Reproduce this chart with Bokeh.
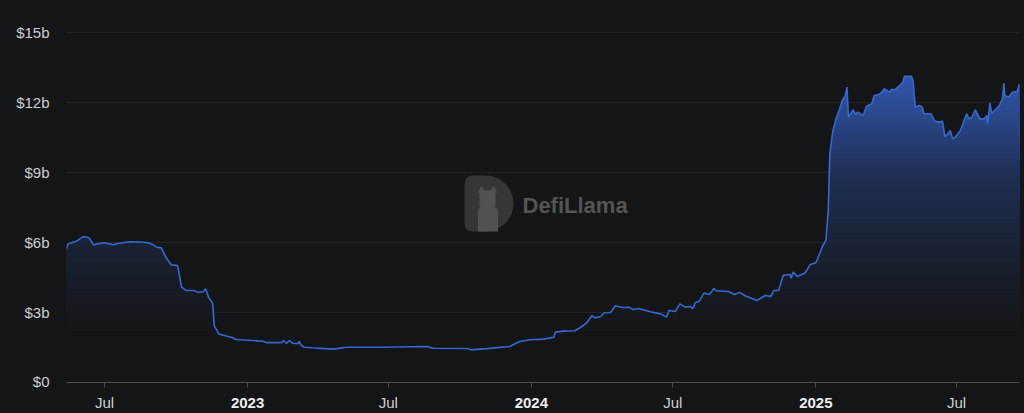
from datetime import timedelta
import numpy as np
import pandas as pd
from jinja2 import Template
from bokeh.plotting import figure
from bokeh.layouts import column
from bokeh.models import Range1d, FixedTicker, Label
from bokeh.core.properties import value
from bokeh.embed import file_html
from bokeh.resources import INLINE

# ---------------- data (TVL in billions USD) ----------------
dates = [
    "2022-05-13", "2022-05-15", "2022-05-26", "2022-06-04", "2022-06-11", "2022-06-17",
    "2022-06-21", "2022-07-01", "2022-07-12", "2022-07-18", "2022-08-02", "2022-08-17",
    "2022-08-26", "2022-09-01", "2022-09-06", "2022-09-12", "2022-09-19", "2022-09-25",
    "2022-10-03", "2022-10-08", "2022-10-14", "2022-10-25", "2022-10-28", "2022-11-05",
    "2022-11-08", "2022-11-12", "2022-11-17", "2022-11-19", "2022-11-25", "2022-12-13",
    "2022-12-17", "2023-01-21", "2023-01-25", "2023-02-14", "2023-02-16", "2023-02-20",
    "2023-02-24", "2023-02-28", "2023-03-07", "2023-03-08", "2023-03-11", "2023-03-15",
    "2023-03-24", "2023-04-21", "2023-05-08", "2023-06-24", "2023-08-19", "2023-08-28",
    "2023-10-10", "2023-10-16", "2023-11-04", "2023-12-04", "2023-12-17", "2023-12-30",
    "2024-01-17", "2024-01-30", "2024-02-01", "2024-02-11", "2024-02-26", "2024-03-06",
    "2024-03-12", "2024-03-19", "2024-03-23", "2024-03-30", "2024-04-04", "2024-04-12",
    "2024-04-18", "2024-04-29", "2024-05-05", "2024-05-11", "2024-05-18", "2024-06-02",
    "2024-06-15", "2024-06-23", "2024-06-26", "2024-07-04", "2024-07-10", "2024-07-17",
    "2024-07-23", "2024-07-27", "2024-07-30", "2024-08-04", "2024-08-10", "2024-08-17",
    "2024-08-23", "2024-08-26", "2024-09-11", "2024-09-18", "2024-09-25", "2024-10-02",
    "2024-10-17", "2024-10-28", "2024-11-04", "2024-11-08", "2024-11-14", "2024-11-20",
    "2024-11-29", "2024-11-30", "2024-12-03", "2024-12-08", "2024-12-18", "2024-12-25",
    "2025-01-01", "2025-01-05", "2025-01-10", "2025-01-14", "2025-01-17", "2025-01-19",
    "2025-01-23", "2025-01-27", "2025-01-31", "2025-02-04", "2025-02-08", "2025-02-10",
    "2025-02-12", "2025-02-18", "2025-02-21", "2025-02-24", "2025-03-03", "2025-03-07",
    "2025-03-14", "2025-03-17", "2025-03-23", "2025-03-27", "2025-03-30", "2025-04-05",
    "2025-04-08", "2025-04-13", "2025-04-19", "2025-04-23", "2025-04-25", "2025-05-04",
    "2025-05-06", "2025-05-09", "2025-05-14", "2025-05-18", "2025-05-20", "2025-05-29",
    "2025-06-03", "2025-06-08", "2025-06-13", "2025-06-16", "2025-06-19", "2025-06-23",
    "2025-06-26", "2025-06-30", "2025-07-06", "2025-07-14", "2025-07-17", "2025-07-21",
    "2025-07-25", "2025-07-31", "2025-08-06", "2025-08-09", "2025-08-10", "2025-08-13",
    "2025-08-15", "2025-08-20", "2025-08-25", "2025-08-29", "2025-08-31", "2025-09-01",
    "2025-09-06", "2025-09-11", "2025-09-17", "2025-09-20",
]
tvl_b = [
    5.73, 5.94, 6.06, 6.26, 6.20, 5.89,
    5.94, 5.99, 5.90, 5.96, 6.03, 6.02,
    5.99, 5.91, 5.80, 5.77, 5.30, 5.04,
    5.01, 4.09, 3.94, 3.94, 3.87, 3.89,
    4.02, 3.63, 3.40, 2.44, 2.08, 1.92,
    1.84, 1.77, 1.71, 1.71, 1.80, 1.68,
    1.80, 1.68, 1.66, 1.77, 1.59, 1.51,
    1.49, 1.43, 1.51, 1.51, 1.54, 1.47,
    1.46, 1.40, 1.45, 1.54, 1.76, 1.83,
    1.86, 1.94, 2.16, 2.20, 2.22, 2.40,
    2.55, 2.87, 2.77, 2.83, 2.99, 3.00,
    3.29, 3.20, 3.23, 3.13, 3.17, 3.03,
    2.94, 2.80, 3.09, 3.04, 3.37, 3.23,
    3.26, 3.17, 3.43, 3.48, 3.83, 3.77,
    4.03, 3.93, 3.90, 3.77, 3.86, 3.72,
    3.51, 3.73, 3.69, 3.94, 3.94, 4.59,
    4.63, 4.47, 4.73, 4.54, 4.69, 5.06,
    5.13, 5.44, 5.87, 6.09, 7.37, 9.80,
    10.80, 11.30, 11.66, 12.09, 12.30, 12.66,
    11.37, 11.69, 11.49, 11.59, 11.44, 11.83,
    11.95, 12.30, 12.34, 12.44, 12.59, 12.44,
    12.55, 12.55, 12.73, 12.87, 13.12, 13.12,
    12.94, 11.80, 11.87, 11.80, 11.52, 11.52,
    11.20, 11.16, 11.19, 10.54, 10.63, 10.80,
    10.44, 10.54, 10.80, 11.52, 11.30, 11.37,
    11.69, 11.30, 11.30, 11.44, 11.09, 11.97,
    11.54, 11.69, 11.87, 12.16, 12.83, 12.30,
    12.23, 12.44, 12.47, 12.80,
]

y_ticks = [0, 3, 6, 9, 12, 15]
y_tick_labels = ["$0", "$3b", "$6b", "$9b", "$12b", "$15b"]
x_tick_dates = ["2022-07-01", "2023-01-01", "2023-07-01", "2024-01-01",
                "2024-07-01", "2025-01-01", "2025-07-01"]
x_tick_labels = ["Jul", "2023", "Jul", "2024", "Jul", "2025", "Jul"]

# ---------------- styling ----------------
BG = "#141517"
LINE = "#3669d0"
BASE = (0x35, 0x62, 0xc8)
BGRGB = (0x14, 0x15, 0x17)
FONT = "Liberation Sans"

x = pd.to_datetime(dates).values
v = np.array(tvl_b, dtype=float)
x_start = pd.Timestamp(dates[0]).to_pydatetime()
x_end = pd.Timestamp(dates[-1]).to_pydatetime()
xr = Range1d(x_start, x_end)

W = 1024
H_MAIN = 389
H_LAB = 24
FL, FR, F0, F15 = 66, 1019, 382, 32   # frame left/right, y of $0 and $15b
TOP = 10
y_max = (F0 - TOP) * 15 / (F0 - F15)

p = figure(width=W, height=H_MAIN, x_axis_type="datetime",
           x_range=xr, y_range=Range1d(0, y_max),
           output_backend="svg", toolbar_location=None,
           background_fill_color=BG, border_fill_color=BG,
           outline_line_color=None,
           min_border_left=FL, min_border_right=W - FR,
           min_border_top=TOP, min_border_bottom=H_MAIN - F0)

p.xgrid.visible = False
p.ygrid.grid_line_color = "#222327"
p.ygrid.grid_line_width = 1

# y axis
p.yaxis.ticker = FixedTicker(ticks=y_ticks)
p.yaxis.major_label_overrides = {t: l for t, l in zip(y_ticks, y_tick_labels)}
p.yaxis.axis_line_color = None
p.yaxis.major_tick_line_color = None
p.yaxis.minor_tick_line_color = None
p.yaxis.major_label_standoff = 11
p.yaxis.major_label_text_color = "#cfcfcf"
p.yaxis.major_label_text_font = FONT
p.yaxis.major_label_text_font_size = "15px"

# x axis: line + ticks only (labels are drawn in the strip below)
tick_ms = [pd.Timestamp(d).value / 1e6 for d in x_tick_dates]
p.xaxis.ticker = FixedTicker(ticks=tick_ms)
p.xaxis.major_label_overrides = {t: "" for t in tick_ms}
p.xaxis.major_label_text_font_size = "1px"
p.xaxis.major_label_standoff = 0
p.xaxis.axis_line_color = "#4e5054"
p.xaxis.major_tick_line_color = "#4e5054"
p.xaxis.minor_tick_line_color = None
p.xaxis.major_tick_in = 0
p.xaxis.major_tick_out = 5

# ---------------- watermark ----------------
days_total = (x_end - x_start).days
def px2date(px):
    return x_start + timedelta(days=(px - FL) * days_total / (FR - FL))
def px2val(py):
    return (F0 - py) * 15 / (F0 - F15)

p.rect(x=[px2date(488.5)], y=[px2val(203)], width=49, height=56,
       width_units="screen", height_units="screen",
       fill_color="#353637", line_color=None, border_radius=(8, 28, 28, 8))
p.rect(x=[px2date(487)], y=[px2val(199)], width=16, height=18,
       width_units="screen", height_units="screen",
       fill_color="#525253", line_color=None, border_radius=4)
p.rect(x=[px2date(487.5)], y=[px2val(219)], width=20, height=24,
       width_units="screen", height_units="screen",
       fill_color="#525253", line_color=None, border_radius=(4, 4, 0, 0))
p.scatter(x=[px2date(481), px2date(493)], y=[px2val(190), px2val(190)],
          marker="triangle", size=8, fill_color="#525253", line_color=None)
p.add_layout(Label(x=px2date(522), y=px2val(205), text="DefiLlama",
                   text_align="left", text_baseline="middle",
                   text_font=FONT, text_font_size="22px", text_font_style="bold",
                   text_color="#545454"))

# ---------------- gradient area (stacked bands) ----------------
alpha_pts_v = [2.0, 3.0, 5.0, 6.0, 8.7, 12.0, 13.3]
alpha_pts_a = [0.0, 0.03, 0.12, 0.18, 0.32, 0.72, 0.86]
tops = np.arange(13.4, 2.0, -0.2)
for b in tops:
    mid = b - 0.1
    a = float(np.interp(mid, alpha_pts_v, alpha_pts_a))
    col = "#%02x%02x%02x" % tuple(int(round(bg + (c - bg) * a))
                                  for c, bg in zip(BASE, BGRGB))
    p.varea(x=x, y1=np.minimum(v, 2.0), y2=np.minimum(v, b),
            fill_color=col, fill_alpha=1.0)

p.line(x=x, y=v, line_color=LINE, line_width=1.6)

# ---------------- x tick label strip ----------------
q = figure(width=W, height=H_LAB, x_range=xr, y_range=Range1d(0, 1),
           x_axis_type="datetime",
           output_backend="svg", toolbar_location=None,
           background_fill_color=BG, border_fill_color=BG,
           outline_line_color=None,
           min_border_left=FL, min_border_right=W - FR,
           min_border_top=0, min_border_bottom=0)
q.axis.visible = False
q.grid.visible = False

jul_x = [pd.Timestamp(d) for d, l in zip(x_tick_dates, x_tick_labels) if l == "Jul"]
yr_x = [pd.Timestamp(d) for d, l in zip(x_tick_dates, x_tick_labels) if l != "Jul"]
yr_t = [l for l in x_tick_labels if l != "Jul"]

q.text(x=jul_x, y=[0.45] * len(jul_x), text=["Jul"] * len(jul_x),
       text_align="center", text_baseline="middle",
       text_font=value(FONT), text_font_size="15px", text_color="#cfcfcf")
q.text(x=yr_x, y=[0.45] * len(yr_x), text=yr_t,
       text_align="center", text_baseline="middle",
       text_font=value(FONT), text_font_size="15px", text_font_style="bold",
       text_color="#ededed")

layout = column(p, q, spacing=0)

tmpl = Template("""{% extends base %}
{% block preamble %}<style>html, body { margin: 0; padding: 0; background: #141517; }</style>{% endblock %}""")

open("out.html", "w").write(file_html(layout, INLINE, template=tmpl))
